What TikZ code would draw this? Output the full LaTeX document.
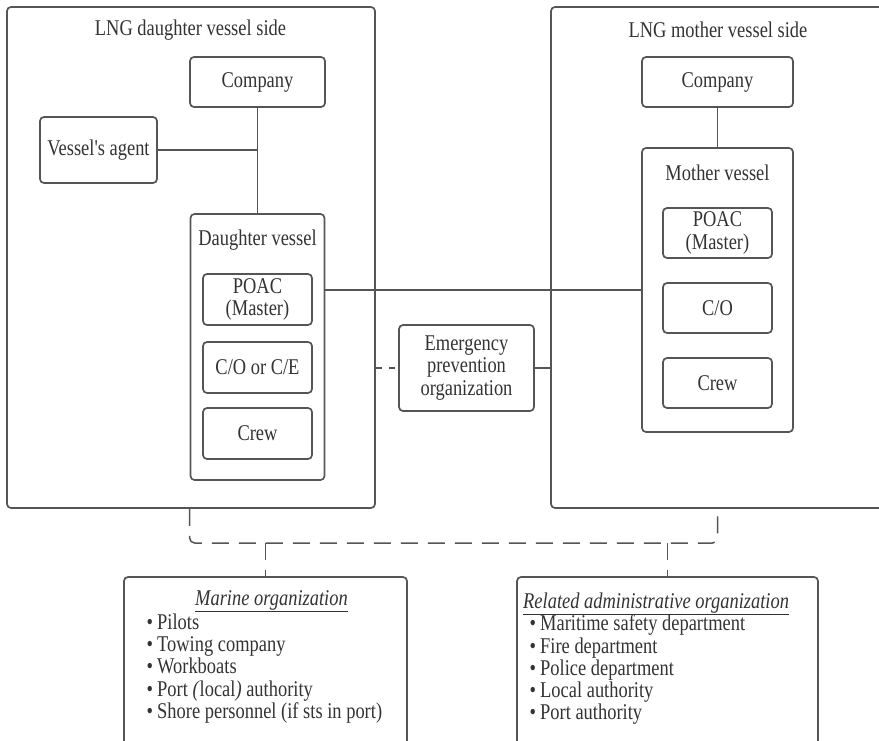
\documentclass[tikz,border=0pt]{standalone}
\usepackage{fontspec}
\setmainfont[FakeStretch=0.82, Ligatures=TeXOff]{Liberation Serif}
\definecolor{ln}{HTML}{555555}
\definecolor{txt}{HTML}{333333}
\begin{document}
\begin{tikzpicture}[x=1pt,y=-1pt,
  every node/.style={font=\fontsize{22.5}{22.5}\selectfont, text=txt},
  box/.style={draw=ln, line width=1.7pt, rounded corners=4pt, inner sep=0pt, align=center},
  link/.style={draw=ln, line width=1.5pt},
  dlink/.style={link, dash pattern=on 17pt off 10pt},
  itm/.style={anchor=base west, inner sep=0pt},
  ttl/.style={inner sep=0pt}]
\useasboundingbox (0,0) rectangle (879,741);
\clip (0,0) rectangle (879,741);
% outer sides
\node[box, minimum width=368pt, minimum height=501pt] (dside) at (191,257.5) {};
\node[box, minimum width=344pt, minimum height=501pt] (mside) at (723,257.5) {};
\node[ttl] (dtitle) at (190.5,30) {LNG daughter vessel side};
\node[ttl] (mtitle) at (718,30) {LNG mother vessel side};
% daughter side
\node[box, minimum width=135pt, minimum height=50pt] (dcomp) at (257.5,82) {Company};
\node[box, minimum width=117pt, minimum height=66pt] (agent) at (98.5,150) {Vessel's agent};
\node[box, minimum width=134pt, minimum height=266pt] (dvessel) at (257.5,347) {};
\node[ttl] (dvl) at (257.5,240) {Daughter vessel};
\node[box, minimum width=109pt, minimum height=51pt] (dpoac) at (257.5,299.5) {POAC\\(Master)};
\node[box, minimum width=109pt, minimum height=51pt] (dco) at (257.5,367.5) {C/O or C/E};
\node[box, minimum width=109pt, minimum height=51pt] (dcrew) at (257.5,433.5) {Crew};
% mother side
\node[box, minimum width=151pt, minimum height=50pt] (mcomp) at (717.5,82) {Company};
\node[box, minimum width=151pt, minimum height=284pt] (mvessel) at (717.5,290) {};
\node[ttl] (mvl) at (717.5,173) {Mother vessel};
\node[box, minimum width=109pt, minimum height=50pt] (mpoac) at (717.5,233) {POAC\\(Master)};
\node[box, minimum width=109pt, minimum height=50pt] (mco) at (717.5,308) {C/O};
\node[box, minimum width=109pt, minimum height=50pt] (mcrew) at (717.5,383) {Crew};
% emergency
\node[box, minimum width=135pt, minimum height=86pt] (emerg) at (466.5,368) {Emergency\\prevention\\organization};
% bottom boxes
\node[box, minimum width=283pt, minimum height=183pt] (marine) at (265.5,668.5) {};
\node[box, minimum width=301pt, minimum height=183pt] (related) at (667.5,668.5) {};
\node[itm, anchor=base] (mt) at (271.5,605) {\underline{\textit{Marine organization}}};
\node[itm] (m1) at (157,629) {\llap{\textbullet\hspace{4pt}}Pilots};
\node[itm] (m2) at (157,651) {\llap{\textbullet\hspace{4pt}}Towing company};
\node[itm] (m3) at (157,673.5) {\llap{\textbullet\hspace{4pt}}Workboats};
\node[itm] (m4) at (157,696) {\llap{\textbullet\hspace{4pt}}Port \textit{(}local\textit{)} authority};
\node[itm] (m5) at (157,718) {\llap{\textbullet\hspace{4pt}}Shore personnel (if sts in port)};
\node[itm] (rt) at (523,608) {\underline{\textit{Related administrative organization}}};
\node[itm] (r1) at (540,630) {\llap{\textbullet\hspace{4pt}}Maritime safety department};
\node[itm] (r2) at (540,653) {\llap{\textbullet\hspace{4pt}}Fire department};
\node[itm] (r3) at (540,675) {\llap{\textbullet\hspace{4pt}}Police department};
\node[itm] (r4) at (540,697) {\llap{\textbullet\hspace{4pt}}Local authority};
\node[itm] (r5) at (540,719) {\llap{\textbullet\hspace{4pt}}Port authority};
% connectors
\coordinate (hy) at (0,290);
\coordinate (dy) at (0,543);
\draw[link] (dcomp.south) -- (dvessel.north);
\draw[link] (agent.east) -- (agent.east -| dcomp.south);
\draw[link] (mcomp.south) -- (mvessel.north);
\draw[link] (dvessel.east |- hy) -- (mvessel.west |- hy);
\draw[link, dash pattern=on 6pt off 7pt] (dside.east |- emerg.west) -- (emerg.west);
\draw[link] (emerg.east) -- (mside.west |- emerg.east);
\draw[dlink, rounded corners=5pt] (dvessel.west |- dside.south) -- (dvessel.west |- dy) -- (mcomp.south |- dy) -- (mcomp.south |- mside.south);
\draw[dlink] (marine.north |- dy) -- (marine.north);
\draw[dlink] (related.north |- dy) -- (related.north);
\end{tikzpicture}
\end{document}
